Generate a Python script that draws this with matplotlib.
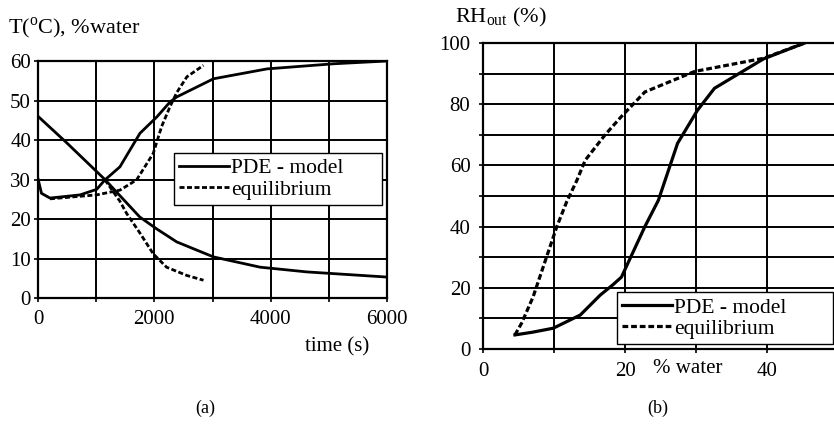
import matplotlib
matplotlib.use('Agg')
import matplotlib.pyplot as plt

plt.rcParams['font.family'] = ['Liberation Serif', 'DejaVu Serif']
plt.rcParams['mathtext.fontset'] = 'custom'
plt.rcParams['mathtext.rm'] = 'Liberation Serif'
plt.rcParams['font.size'] = 15

# (a) temperature / water content vs time
t_pde_T = [0, 500, 1150, 1750, 2040, 2385, 3017, 3820, 4626, 6000]
T_pde = [46, 39.2, 30, 20.5, 17.5, 14.2, 10.4, 7.8, 6.6, 5.3]
t_pde_w = [0, 60, 206, 722, 1008, 1151, 1408, 1753, 2040, 2268, 2385, 3017, 3937, 5086, 6000]
w_pde = [30.2, 26.5, 25.3, 26.1, 27.5, 29.9, 33.2, 41.7, 45.8, 49.6, 50.9, 55.5, 58.0, 59.3, 60.0]
t_eq_w = [206, 1008, 1408, 1695, 1981, 2125, 2268, 2385, 2560, 2845]
w_eq = [25.1, 26.1, 27.3, 29.9, 36.6, 43.4, 48.4, 52.0, 56.0, 58.9]
t_eq_T = [1151, 1408, 1524, 1750, 1980, 2210, 2560, 2845]
T_eq = [29.9, 24.5, 21.4, 16.5, 11.2, 7.8, 5.7, 4.5]

# (b) outlet humidity vs water content
water_pde = [4.5, 7, 9.9, 13.7, 16.5, 18.3, 19.5, 22.8, 24.7, 27.4, 30.2, 32.6, 39.5, 45.3]
rh_pde = [4.6, 5.5, 6.8, 11.1, 17.6, 21, 23.5, 40, 48.6, 67.2, 78, 85.2, 94.8, 100]
water_eq = [4.5, 5.45, 7.05, 8.97, 10.4, 11.8, 13.2, 14.4, 17.2, 19.5, 22.8, 29.8, 39.5, 45.3]
rh_eq = [4.6, 8.5, 17, 30.2, 40, 48.2, 55, 61.7, 70, 76, 84, 90.7, 95, 100]

W, H = 834, 430
fig = plt.figure(figsize=(W / 100, H / 100), dpi=100)


def box(l, t, r, b):
    return [l / W, 1 - b / H, (r - l) / W, (b - t) / H]


dash = (0, (1.8, 0.9))
leg_kw = dict(handlelength=2.3, fancybox=False, edgecolor='black', framealpha=1,
              borderpad=0.25, labelspacing=0.05, handletextpad=0.1,
              borderaxespad=0, fontsize=15.5, mode='expand', loc='upper left')

ax1 = fig.add_axes(box(38, 61, 387, 298))
ax1.plot(t_pde_T, T_pde, color='black', lw=2, label='PDE - model')
ax1.plot(t_pde_w, w_pde, color='black', lw=2)
ax1.plot(t_eq_w, w_eq, color='black', lw=2, linestyle=dash, label='equilibrium')
ax1.plot(t_eq_T, T_eq, color='black', lw=2, linestyle=dash)
ax1.set_xlim(0, 6000)
ax1.set_ylim(0, 60)
ax1.set_xticks(range(0, 6001, 1000))
ax1.set_xticklabels(['0', '', '2000', '', '4000', '', '6000'])
ax1.set_yticks(range(0, 61, 10))
ax1.text(5690, -12.4, 'time (s)', ha='right', va='center')
ax1.legend(bbox_to_anchor=(0.39, 0.3, 0.596, 0.312), **leg_kw)
ax1.tick_params(axis='x', pad=6)
ax1.tick_params(axis='y', pad=2)

ax2 = fig.add_axes(box(483, 43, 838, 349))
ax2.plot(water_pde, rh_pde, color='black', lw=2.3, label='PDE - model')
ax2.plot(water_eq, rh_eq, color='black', lw=2.3, linestyle=dash, label='equilibrium')
ax2.set_xlim(0, 50)
ax2.set_ylim(0, 100)
ax2.set_xticks(range(0, 51, 10))
ax2.set_xticklabels(['0', '', '20', '', '40', ''])
ax2.set_yticks(range(0, 101, 10))
ax2.set_yticklabels(['0', '', '20', '', '40', '', '60', '', '80', '', '100'])
ax2.text(28.9, -6.3, '% water', ha='center', va='center')
ax2.legend(bbox_to_anchor=(0.377, 0.0, 0.608, 0.186), **leg_kw)
ax2.tick_params(axis='x', pad=6)
ax2.tick_params(axis='y', pad=6)

for ax in (ax1, ax2):
    ax.grid(True, color='black', lw=1.4)
    ax.set_axisbelow(True)
    ax.tick_params(length=3, width=1.2, direction='out', labelsize=15)
    for s in ax.spines.values():
        s.set_linewidth(1.6)

fig.text(8 / W, 1 - 28 / H, r'T($^{\mathrm{o}}$C), %water', ha='left', va='center', fontsize=16)
fig.text(455 / W, 1 - 17 / H, r'RH$_{\mathrm{out}}$ (%)', ha='left', va='center', fontsize=16)
fig.text(205 / W, 1 - 408 / H, '(a)', ha='center', va='center', fontsize=13)
fig.text(658 / W, 1 - 408 / H, '(b)', ha='center', va='center', fontsize=13)

fig.savefig('out.png', dpi=100)
